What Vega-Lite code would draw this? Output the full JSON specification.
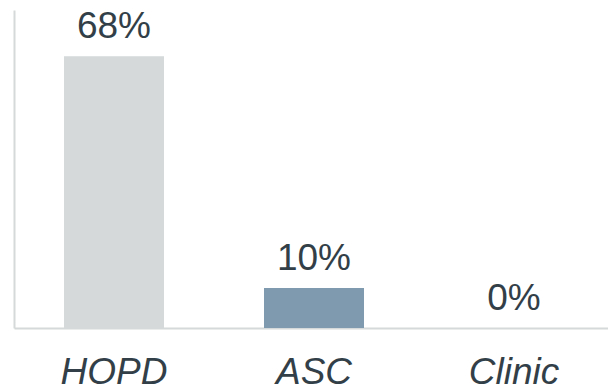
{
  "$schema": "https://vega.github.io/schema/vega-lite/v6.json",
  "autosize": {"type": "none"},
  "padding": {"left": 14, "top": 10, "right": 0, "bottom": 64},
  "width": 600,
  "height": 318,
  "background": "#ffffff",
  "config": {
    "view": {"stroke": null},
    "font": "Liberation Sans"
  },
  "data": {
    "values": [
      {"setting": "HOPD", "share": 68, "label": "68%"},
      {"setting": "ASC", "share": 10, "label": "10%"},
      {"setting": "Clinic", "share": 0, "label": "0%"}
    ]
  },
  "encoding": {
    "x": {
      "field": "setting",
      "type": "nominal",
      "sort": null,
      "scale": {"paddingInner": 0.5, "paddingOuter": 0.25},
      "axis": {
        "title": null,
        "ticks": false,
        "labelAngle": 0,
        "labelFont": "Liberation Sans",
        "labelFontSize": 37,
        "labelFontStyle": "italic",
        "labelColor": "#333f48",
        "labelBaseline": "alphabetic",
        "labelPadding": 55,
        "domainColor": "#d5d9da",
        "domainWidth": 2
      }
    },
    "y": {
      "field": "share",
      "type": "quantitative",
      "scale": {"domain": [0, 79.6], "nice": false},
      "axis": {
        "title": null,
        "labels": false,
        "ticks": false,
        "grid": false,
        "domainColor": "#d5d9da",
        "domainWidth": 2
      }
    }
  },
  "layer": [
    {
      "mark": {"type": "bar"},
      "encoding": {
        "color": {
          "field": "setting",
          "type": "nominal",
          "scale": {"domain": ["HOPD", "ASC", "Clinic"], "range": ["#d5d9da", "#7f9aae", "#7f9aae"]},
          "legend": null
        }
      }
    },
    {
      "mark": {
        "type": "text",
        "baseline": "alphabetic",
        "dy": -18,
        "fontSize": 37,
        "font": "Liberation Sans",
        "color": "#333f48"
      },
      "encoding": {
        "text": {"field": "label"}
      }
    }
  ]
}
